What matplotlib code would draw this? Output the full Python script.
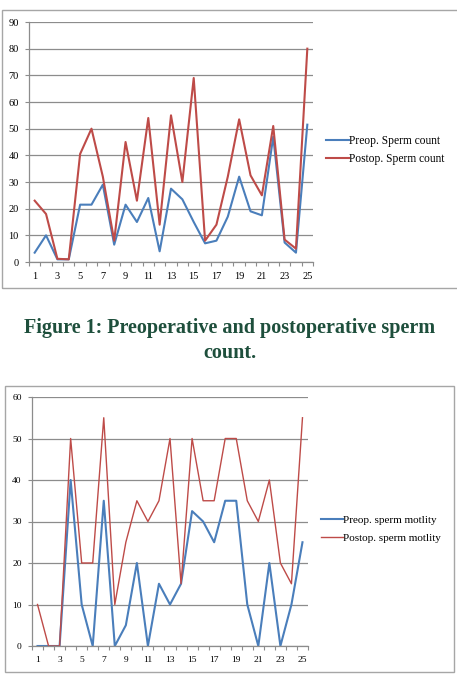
import matplotlib
matplotlib.use("Agg")
import matplotlib.pyplot as plt
from matplotlib.patches import Rectangle

W, H = 457, 677

cases = list(range(1, 26))
preop_count = [3.5, 10, 1, 1, 21.5, 21.5, 29, 6.5, 21.5, 15, 24, 4, 27.5, 23.5, 15,
               7, 8, 17, 32, 19, 17.5, 47, 7.3, 3.5, 51.5]
postop_count = [23, 18, 1.2, 1, 40.5, 50, 32, 8, 45, 23, 54, 14, 55, 30, 69,
                8, 14, 32, 53.5, 32.5, 25, 51, 8.4, 5, 80]
preop_motility = [0, 0, 0, 40, 10, 0, 35, 0, 5, 20, 0, 15, 10, 15, 32.5,
                  30, 25, 35, 35, 10, 0, 20, 0, 10, 25]
postop_motility = [10, 0, 0, 50, 20, 20, 55, 10, 25, 35, 30, 35, 50, 15, 50,
                   35, 35, 50, 50, 35, 30, 40, 20, 15, 55]
x_labels = [str(c) if c % 2 == 1 else "" for c in cases]
caption = "Figure 1: Preoperative and postoperative sperm\ncount."

BLUE = "#4a7ebb"
RED = "#be4b48"
GRID = "#8c8c8c"
FONT = ["Liberation Serif", "DejaVu Serif"]

fig = plt.figure(figsize=(W / 100, H / 100), dpi=100)
fig.patch.set_facecolor("white")


def box(x0, y0, x1, y1):
    return [x0 / W, 1 - y1 / H, (x1 - x0) / W, (y1 - y0) / H]


def frame(x0, y0, x1, y1):
    r = Rectangle((x0 / W, 1 - y1 / H), (x1 - x0) / W, (y1 - y0) / H,
                  transform=fig.transFigure, fill=False, edgecolor="#a6a6a6",
                  linewidth=1.0)
    fig.add_artist(r)


def setup(ax, ymax, ystep, tsize):
    ax.set_xlim(0.5, 25.5)
    ax.set_ylim(0, ymax)
    ax.set_yticks(range(0, ymax + 1, ystep))
    ax.set_xticks([c + 0.5 for c in [0] + cases])
    ax.set_xticklabels([])
    ax.set_xticks(cases, minor=True)
    ax.set_xticklabels(x_labels, minor=True, fontsize=tsize, family=FONT)
    ax.tick_params(axis="x", which="major", length=3, color=GRID, width=0.8,
                   direction="out")
    ax.tick_params(axis="x", which="minor", length=0, pad=7)
    ax.tick_params(axis="y", length=3, color=GRID, width=0.8, pad=4.3)
    for lab in ax.get_yticklabels():
        lab.set_fontsize(tsize)
        lab.set_family(FONT)
    ax.grid(axis="y", color=GRID, linewidth=0.9)
    ax.set_axisbelow(True)
    for s in ["top", "right"]:
        ax.spines[s].set_visible(False)
    for s in ["left", "bottom"]:
        ax.spines[s].set_color(GRID)
        ax.spines[s].set_linewidth(0.9)
    ax.set_facecolor("none")


# ---- Chart 1: sperm count ----
frame(2, 10, 460, 288)
ax1 = fig.add_axes(box(29, 22, 313, 262))
ax1.plot(cases, preop_count, color=BLUE, lw=1.5, label="Preop. Sperm count")
ax1.plot(cases, postop_count, color=RED, lw=1.5, label="Postop. Sperm count")
setup(ax1, 90, 10, 7.5)
fig.legend(handles=ax1.get_lines(), loc="center left",
           bbox_to_anchor=(326 / W, 1 - 150 / H), frameon=False,
           prop={"family": FONT, "size": 8.3}, handlelength=2.0,
           handletextpad=0.0, labelspacing=0.55, borderaxespad=0,
           borderpad=0)

# ---- Caption ----
fig.text(230 / W, 1 - 340.5 / H, caption, ha="center", va="center",
         family=FONT, fontweight="bold", fontsize=14.5, color="#1e4f3c",
         linespacing=1.3)

# ---- Chart 2: sperm motility ----
frame(5, 386, 454, 672)
ax2 = fig.add_axes(box(32, 397, 308, 646))
ax2.plot(cases, preop_motility, color=BLUE, lw=1.5, label="Preop. sperm motlity")
ax2.plot(cases, postop_motility, color=RED, lw=1.0, label="Postop. sperm motlity")
setup(ax2, 60, 10, 6.8)
fig.legend(handles=ax2.get_lines(), loc="center left",
           bbox_to_anchor=(321 / W, 1 - 529 / H), frameon=False,
           prop={"family": FONT, "size": 8.0}, handlelength=2.0,
           handletextpad=0.0, labelspacing=0.7, borderaxespad=0,
           borderpad=0)

fig.savefig("out.png", dpi=100, facecolor="white")
